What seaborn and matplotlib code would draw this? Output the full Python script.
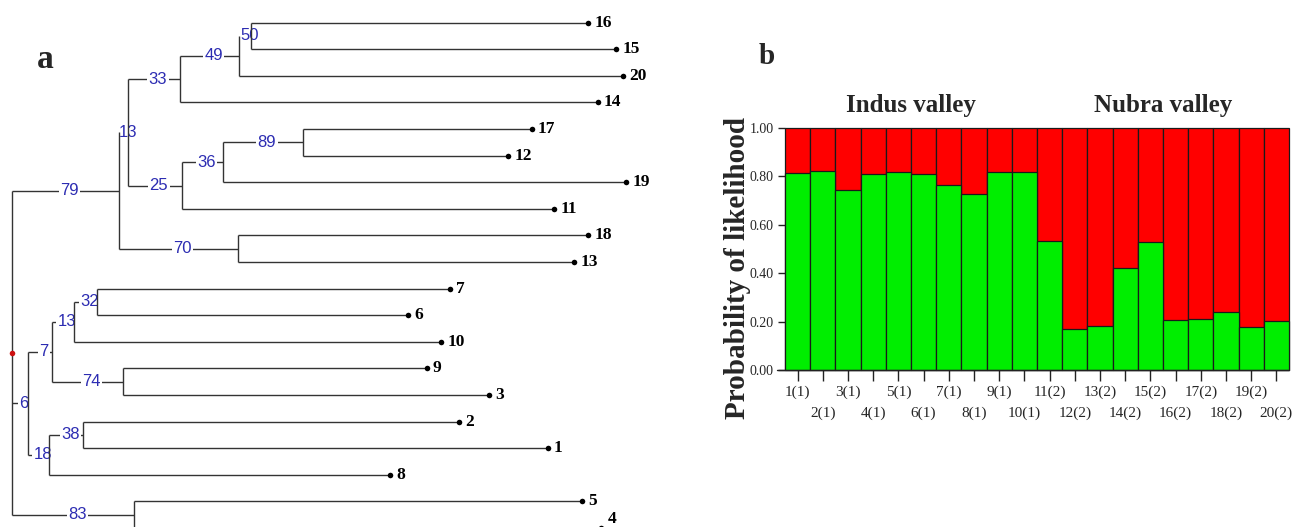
import matplotlib
matplotlib.use("Agg")
import matplotlib.pyplot as plt
import pandas as pd
import seaborn as sns

# ---------------- panel a: neighbour-joining tree ----------------
# leaves from top to bottom and their distance from the root
leaf_order = [16, 15, 20, 14, 17, 12, 19, 11, 18, 13, 7, 6, 10, 9, 3, 2, 1, 8, 5, 4]
leaf_depth = [0.5766, 0.6043, 0.6116, 0.5860, 0.5200, 0.4966, 0.6143, 0.5426, 0.5766, 0.5623,
              0.4383, 0.3960, 0.4293, 0.4150, 0.4776, 0.4470, 0.5360, 0.3783, 0.5706, 0.5893]

# internal nodes: children (leaf numbers or node names), depth, bootstrap support
node_names = ["root", "n79", "n13a", "n33", "n49", "n50", "n25", "n36", "n89", "n70",
              "n6", "n7", "n13b", "n32", "n74", "n18", "n38", "n83"]
node_children = [["n79", "n6", "n83"], ["n13a", "n70"], ["n33", "n25"], ["n49", 14],
                 ["n50", 20], [16, 15], ["n36", 11], ["n89", 19], [17, 12], [18, 13],
                 ["n7", "n18"], ["n13b", "n74"], ["n32", 10], [7, 6], [9, 3],
                 ["n38", 8], [2, 1], [5, 4]]
node_depth = [0.0, 0.1073, 0.1160, 0.1683, 0.2276, 0.2390, 0.1700, 0.2110, 0.2910, 0.2263,
              0.0166, 0.0400, 0.0623, 0.0850, 0.1110, 0.0373, 0.0716, 0.1226]
node_support = [None, 79, 13, 33, 49, 50, 25, 36, 89, 70, 6, 7, 13, 32, 74, 18, 38, 83]

# ---------------- panel b: STRUCTURE membership (K = 2) ----------------
samples = ["1(1)", "2(1)", "3(1)", "4(1)", "5(1)", "6(1)", "7(1)", "8(1)", "9(1)", "10(1)",
           "11(2)", "12(2)", "13(2)", "14(2)", "15(2)", "16(2)", "17(2)", "18(2)", "19(2)", "20(2)"]
population = [1, 1, 1, 1, 1, 1, 1, 1, 1, 1, 2, 2, 2, 2, 2, 2, 2, 2, 2, 2]
cluster1 = [0.814, 0.824, 0.742, 0.811, 0.818, 0.810, 0.763, 0.727, 0.817, 0.817,
            0.533, 0.169, 0.182, 0.420, 0.527, 0.207, 0.212, 0.240, 0.176, 0.204]
cluster2 = [0.186, 0.176, 0.258, 0.189, 0.182, 0.190, 0.237, 0.273, 0.183, 0.183,
            0.467, 0.831, 0.818, 0.580, 0.473, 0.793, 0.788, 0.760, 0.824, 0.796]
valley_names = ["Indus valley", "Nubra valley"]
y_ticks = [0.0, 0.2, 0.4, 0.6, 0.8, 1.0]

sns.set_style("white")
plt.rcParams["font.family"] = ["Liberation Serif", "DejaVu Serif"]

W, H = 1298, 527
fig = plt.figure(figsize=(W / 100, H / 100), dpi=100)
fig.patch.set_facecolor("white")

LINE = "#333333"
BLUE = "#2c2cb2"

# ---- tree ----
ax_t = fig.add_axes([0, 0, 0.55, 1])
ax_t.set_axis_off()
ax_t.set_xlim(-0.0117, 0.7022)
ax_t.set_ylim(18.96, -0.853)

nodes = {n: (c, d, s) for n, c, d, s in zip(node_names, node_children, node_depth, node_support)}
leaf_pos = {leaf: i for i, leaf in enumerate(leaf_order)}
leaf_x = dict(zip(leaf_order, leaf_depth))
parent = {}
for n, c in zip(node_names, node_children):
    for ch in c:
        parent[ch] = n


def y_of(item):
    if item in leaf_pos:
        return float(leaf_pos[item])
    ch = nodes[item][0]
    return (y_of(ch[0]) + y_of(ch[-1])) / 2


def x_of(item):
    return leaf_x[item] if item in leaf_x else nodes[item][1]


for n in node_names:
    children, depth, support = nodes[n]
    ys = [y_of(c) for c in children]
    ax_t.vlines(depth, min(ys), max(ys), color=LINE, lw=1.0, zorder=4)
    for c, yc in zip(children, ys):
        ax_t.hlines(yc, depth, x_of(c), color=LINE, lw=1.0, zorder=2)
    if support is not None:
        xm = (nodes[parent[n]][1] + depth) / 2
        ax_t.annotate(str(support), (xm, y_of(n)), xytext=(3, 0), textcoords="offset points",
                      ha="center", va="center", fontsize=12, color=BLUE,
                      family=["Liberation Sans", "DejaVu Sans"], zorder=3,
                      bbox=dict(boxstyle="square,pad=0.08", fc="white", ec="none"))

root_y = y_of("root")
ax_t.scatter([0.0], [root_y], s=16, color="#cc1111", zorder=6, linewidths=0)

ax_t.scatter(leaf_depth, range(len(leaf_order)), s=16, color="black", zorder=6, linewidths=0)
for leaf, d in zip(leaf_order, leaf_depth):
    # keep a label that would run past the lower figure edge fully inside it
    y_disp = ax_t.transData.transform((d, leaf_pos[leaf]))[1]
    lift = max(0.0, 8.0 - y_disp) * 72 / fig.dpi
    ax_t.annotate(str(leaf), (d, leaf_pos[leaf]), xytext=(4.5, lift), textcoords="offset points",
                  ha="left", va="center", fontsize=12.5, fontweight="bold", color="black",
                  annotation_clip=False)

fig.text(45 / W, 1 - 60 / H, "a", fontsize=24, fontweight="bold", ha="center", va="center")

# ---- STRUCTURE bar plot ----
RED = "#ff0000"
GREEN = "#00ee00"
EDGE = "#1a1a1a"

df = pd.DataFrame({"sample": samples, "pop": population, "c1": cluster1, "c2": cluster2})
df["total"] = df["c1"] + df["c2"]

ax_b = fig.add_axes([785 / W, 157 / H, 504 / W, 242 / H])
sns.barplot(data=df, x="sample", y="total", color=RED, saturation=1, width=1,
            edgecolor=EDGE, linewidth=0.9, ax=ax_b)
sns.barplot(data=df, x="sample", y="c1", color=GREEN, saturation=1, width=1,
            edgecolor=EDGE, linewidth=0.9, ax=ax_b)
for p in ax_b.patches:
    p.set_clip_on(False)

ax_b.set_xlim(-0.5, len(samples) - 0.5)
ax_b.set_ylim(0, 1.0)
ax_b.set_xlabel("")
ax_b.set_ylabel("")
ax_b.set_yticks(y_ticks)
ax_b.set_yticklabels([f"{v:.2f}" for v in y_ticks])
for s in ["top", "right", "left", "bottom"]:
    ax_b.spines[s].set_visible(False)
ax_b.tick_params(axis="y", left=True, length=5, width=1, color="#222222",
                 pad=3, labelsize=10)
ax_b.tick_params(axis="x", bottom=True, length=8, width=1, color="#222222",
                 labelsize=11)
for i, t in enumerate(ax_b.xaxis.get_major_ticks()):
    t.set_pad(3 if i % 2 == 0 else 18)
ax_b.axhline(0, xmin=-0.015, xmax=1, color="#222222", lw=1, clip_on=False, zorder=5)

for k, name in enumerate(valley_names):
    idx = df.index[df["pop"] == k + 1]
    ax_b.text(idx.to_numpy().mean(), 1.095, name, transform=ax_b.get_xaxis_transform(),
              ha="center", va="center", fontsize=18, fontweight="bold")

fig.text(738 / W, 1 - 268 / H, "Probability of likelihood", rotation=90, fontsize=21,
         fontweight="bold", ha="center", va="center")
fig.text(767 / W, 1 - 57 / H, "b", fontsize=21, fontweight="bold", ha="center", va="center")

fig.savefig("out.png", dpi=100, facecolor="white")
